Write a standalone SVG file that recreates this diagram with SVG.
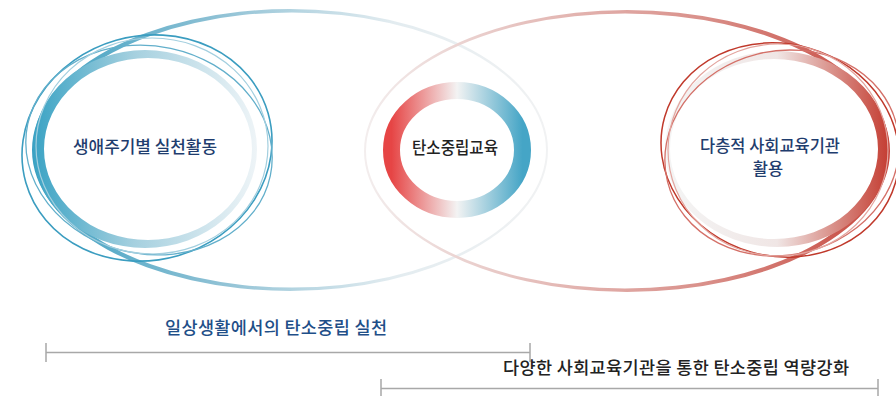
<svg xmlns="http://www.w3.org/2000/svg" width="896" height="396" viewBox="0 0 896 396">
  <defs>
    <linearGradient id="gBigBlue" x1="0" y1="0" x2="1" y2="0">
      <stop offset="0" stop-color="#3a9fc1"/>
      <stop offset="0.35" stop-color="#8cc0d4"/>
      <stop offset="0.7" stop-color="#e3ecf0"/>
      <stop offset="1" stop-color="#f1f2f3"/>
    </linearGradient>
    <linearGradient id="gBigRed" x1="0" y1="0" x2="1" y2="0">
      <stop offset="0" stop-color="#f3eeee"/>
      <stop offset="0.3" stop-color="#e6c2bf"/>
      <stop offset="0.65" stop-color="#d98f89"/>
      <stop offset="1" stop-color="#c6443a"/>
    </linearGradient>
    <linearGradient id="gRing" x1="0" y1="0" x2="1" y2="0">
      <stop offset="0" stop-color="#e64545"/>
      <stop offset="0.5" stop-color="#f3f3f3"/>
      <stop offset="1" stop-color="#45a5c6"/>
    </linearGradient>
    <linearGradient id="gBandBlue" x1="0" y1="0" x2="1" y2="0">
      <stop offset="0" stop-color="#3ba3c4"/>
      <stop offset="0.45" stop-color="#a5d0df"/>
      <stop offset="1" stop-color="#eef4f7"/>
    </linearGradient>
    <linearGradient id="gBandRed" x1="0" y1="0" x2="1" y2="0">
      <stop offset="0" stop-color="#f4f5f5"/>
      <stop offset="0.5" stop-color="#f0e6e5"/>
      <stop offset="0.75" stop-color="#d99089"/>
      <stop offset="1" stop-color="#c43d32"/>
    </linearGradient>
    <style>
      .thin { fill: none; }
      .node-text { font-family: "Noto Sans CJK KR", "Noto Sans", sans-serif; font-size: 16.5px; font-weight: 500; text-anchor: middle; }
      .navy { fill: #1f3d6e; }
      .dark { fill: #222222; }
      .cap { font-family: "Noto Sans CJK KR", "Noto Sans", sans-serif; font-size: 17.5px; font-weight: 500; text-anchor: middle; }
      .bracket { fill: none; stroke: #a8a8a8; stroke-width: 1.5; }
    </style>
  </defs>

  <g id="big-ellipses">
    <path fill="url(#gBigBlue)" fill-rule="evenodd" d="M32,150 a258,141 0 1,0 516,0 a258,141 0 1,0 -516,0 Z M38,150 a254,137.5 0 1,0 508,0 a254,137.5 0 1,0 -508,0 Z"/>
    <path fill="url(#gBigRed)" fill-rule="evenodd" d="M364,151 a263,141 0 1,0 526,0 a263,141 0 1,0 -526,0 Z M366,151 a259,137.5 0 1,0 518,0 a259,137.5 0 1,0 -518,0 Z"/>
  </g>

  <g id="node-lifecycle">
    <path fill="url(#gBandBlue)" fill-rule="evenodd" d="M33,149 a112,99 0 1,0 224,0 a112,99 0 1,0 -224,0 Z M44,149 a104,91 0 1,0 208,0 a104,91 0 1,0 -208,0 Z"/>
    <ellipse class="thin" cx="147" cy="148" rx="126" ry="112" transform="rotate(-16 147 148)" stroke="#3b9dc0" stroke-width="1.6"/>
    <ellipse class="thin" cx="149" cy="150" rx="124" ry="104" transform="rotate(12 149 150)" stroke="#62afcb" stroke-width="1.3"/>
    <ellipse class="thin" cx="152" cy="146" rx="116" ry="108" stroke="#a3cfdf" stroke-width="1.2"/>
    <text class="node-text navy" x="145" y="153" textLength="144" lengthAdjust="spacingAndGlyphs">생애주기별 실천활동</text>
  </g>

  <g id="node-center">
    <ellipse cx="457" cy="150" rx="65.5" ry="59.5" fill="none" stroke="url(#gRing)" stroke-width="17"/>
    <text class="node-text dark" x="455" y="154" textLength="86" lengthAdjust="spacingAndGlyphs">탄소중립교육</text>
  </g>

  <g id="node-institutions">
    <path fill="url(#gBandRed)" fill-rule="evenodd" d="M665,149 a112,98 0 1,0 224,0 a112,98 0 1,0 -224,0 Z M670,149 a104,90 0 1,0 208,0 a104,90 0 1,0 -208,0 Z"/>
    <ellipse class="thin" cx="780" cy="150" rx="120" ry="106" transform="rotate(16 780 150)" stroke="#c0392b" stroke-width="1.5"/>
    <ellipse class="thin" cx="782" cy="153" rx="118" ry="102" transform="rotate(-14 782 153)" stroke="#d47068" stroke-width="1.3"/>
    <ellipse class="thin" cx="778" cy="150" rx="110" ry="106" stroke="#e3a59f" stroke-width="1.2"/>
    <text class="node-text navy" x="770" y="152" textLength="140" lengthAdjust="spacingAndGlyphs">다층적 사회교육기관</text>
    <text class="node-text navy" x="768" y="175">활용</text>
  </g>

  <g id="connectors">
    <path class="bracket" d="M46,343 V362 M46,352.5 H530 M530,343 V362"/>
    <path class="bracket" d="M381,379 V396 M381,388.5 H878 M878,379 V396"/>
  </g>

  <g id="captions">
    <text class="cap" x="276" y="334" fill="#1f4f88" textLength="222" lengthAdjust="spacing">일상생활에서의 탄소중립 실천</text>
    <text class="cap" x="676" y="374" fill="#222222" textLength="346" lengthAdjust="spacing">다양한 사회교육기관을 통한 탄소중립 역량강화</text>
  </g>
</svg>
